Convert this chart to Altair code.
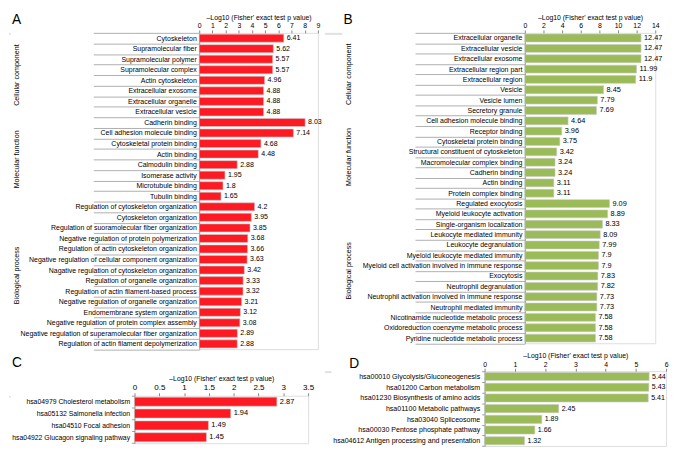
import altair as alt
import pandas as pd

FONT = "Liberation Sans"
XTITLE = "\u2013Log10 (Fisher' exact test p value)"
RED = "#fe1a22"
GREEN = "#9bbb59"

GROUPS = ["Cellular component", "Molecular function", "Biological process"]
LETTERS = ["A", "B", "C", "D"]

# ---------- Panel A ----------
A_cc_terms = ["Cytoskeleton", "Supramolecular fiber", "Supramolecular polymer", "Supramolecular complex",
              "Actin cytoskeleton", "Extracellular exosome", "Extracellular organelle", "Extracellular vesicle"]
A_cc_values = [6.41, 5.62, 5.57, 5.57, 4.96, 4.88, 4.88, 4.88]
A_mf_terms = ["Cadherin binding", "Cell adhesion molecule binding", "Cytoskeletal protein binding", "Actin binding",
              "Calmodulin binding", "Isomerase activity", "Microtubule binding", "Tubulin binding"]
A_mf_values = [8.03, 7.14, 4.68, 4.48, 2.88, 1.95, 1.8, 1.65]
A_bp_terms = ["Regulation of cytoskeleton organization", "Cytoskeleton organization",
              "Regulation of suoramolecular fiber organization", "Negative regulation of protein polymerization",
              "Regulation of actin cytoskeleton organization", "Negative regulation of cellular component organization",
              "Nagative regulation of cytoskeleton organization", "Regulation of organelle organization",
              "Regulation of actin filament-based process", "Negative regulation of organelle organization",
              "Endomembrane system organization", "Negative regulation of protein complex assembly",
              "Negative regulation of superamolecular fiber organization", "Regulation of actin filament depolymerization"]
A_bp_values = [4.2, 3.95, 3.85, 3.68, 3.66, 3.63, 3.42, 3.33, 3.32, 3.21, 3.12, 3.08, 2.89, 2.88]
A_ticks = [0, 1, 2, 3, 4, 5, 6, 7, 8, 9]

# ---------- Panel B ----------
B_cc_terms = ["Extracellular organelle", "Extracellular vesicle", "Extracellular exosome", "Extracellular region part",
              "Extracellular region", "Vesicle", "Vesicle lumen", "Secretory granule"]
B_cc_values = [12.47, 12.47, 12.47, 11.99, 11.9, 8.45, 7.79, 7.69]
B_mf_terms = ["Cell adhesion molecule binding", "Receptor binding", "Cytoskeletal protein binding",
              "Structural constituent of cytoskeleton", "Macromolecular complex binding", "Cadherin binding",
              "Actin binding", "Protein complex binding"]
B_mf_values = [4.64, 3.96, 3.75, 3.42, 3.24, 3.24, 3.11, 3.11]
B_bp_terms = ["Regulated exocytosis", "Myeloid leukocyte activation", "Single-organism localization",
              "Leukocyte mediated immunity", "Leukocyte degranulation", "Myeloid leukocyte mediated immunity",
              "Myeloid cell activation involved in immune response", "Exocytosis", "Neutrophil degranulation",
              "Neutrophil activation involved in immune response", "Neutrophil mediated immunity",
              "Nicotinamide nucleotide metabolic process", "Oxidoreduction coenzyme metabolic process",
              "Pyridine nucleotide metabolic process"]
B_bp_values = [9.09, 8.89, 8.33, 8.09, 7.99, 7.9, 7.9, 7.83, 7.82, 7.73, 7.73, 7.58, 7.58, 7.58]
B_ticks = [0, 2, 4, 6, 8, 10, 12, 14]

# ---------- Panel C ----------
C_terms = ["hsa04979 Cholesterol metabolism", "hsa05132 Salmonella infection", "hsa04510 Focal adhesion",
           "hsa04922 Glucagon signaling pathway"]
C_values = [2.87, 1.94, 1.49, 1.45]
C_ticks = [0, 0.5, 1, 1.5, 2, 2.5, 3, 3.5]

# ---------- Panel D ----------
D_terms = ["hsa00010 Glycolysis/Gluconeogenesis", "hsa01200 Carbon metabolism", "hsa01230 Biosynthesis of amino acids",
           "hsa01100 Metabolic pathways", "hsa03040 Spliceosome", "hsa00030 Pentose phosphate pathway",
           "hsa04612 Antigen processing and presentation"]
D_values = [5.44, 5.43, 5.41, 2.45, 1.89, 1.66, 1.32]
D_ticks = [0, 1, 2, 3, 4, 5, 6]


def x_axis(ticks, fs):
    return alt.Axis(orient="top", values=ticks, format="~r", title=XTITLE, titleFontSize=7,
                    titleFontWeight="normal", titlePadding=2, labelFontSize=fs, labelPadding=1,
                    labelOverlap=False, labelFlush=False, domain=False,
                    tickSize=3, tickColor="#888888", labelColor="black",
                    titleColor="black", grid=False)


def letter_layer(letter, lx, ly):
    return alt.Chart(pd.DataFrame({"letter": [letter]})).mark_text(
        align="left", baseline="alphabetic", fontSize=14, font=FONT, color="black").encode(
        text="letter:N", x=alt.value(lx), y=alt.value(ly))


def spacer(w):
    return alt.Chart(pd.DataFrame({"s": [0]})).mark_rule(opacity=0, strokeWidth=0).encode(
        x=alt.value(0), y=alt.value(0), y2=alt.value(0)).properties(width=w, height=1)


def go_panel(terms_lists, values_lists, color, step, xmax, ticks, width, letter, tick_len, group_x, lfs, vfs):
    rows = []
    for g, ts, vs in zip(GROUPS, terms_lists, values_lists):
        for k, (t, v) in enumerate(zip(ts, vs)):
            rows.append({"group": g, "term": t, "value": v, "mid": k == len(ts) // 2})
    df = pd.DataFrame(rows)
    xenc = alt.X("value:Q", scale=alt.Scale(domain=[0, xmax], nice=False), axis=x_axis(ticks, 7))
    yaxis = alt.Axis(title=None, tickBand="extent", tickSize=tick_len, tickColor="#9a9a9a", tickWidth=0.8,
                     labelPadding=-(tick_len - 3), labelFontSize=lfs, labelLimit=400, labelColor="black",
                     domainColor="#9a9a9a")
    yenc = alt.Y("term:N", sort=None, scale=alt.Scale(paddingInner=0, paddingOuter=0), axis=yaxis)
    base = alt.Chart(df)
    bars = base.mark_bar(color=color, stroke="#c8c8c8", strokeWidth=0.6,
                         height={"band": 0.76}).encode(x=xenc, y=yenc)
    text = base.mark_text(align="left", dx=3, fontSize=vfs, font=FONT, color="black").encode(
        x=xenc, y=yenc, text=alt.Text("value:Q", format="~r"))
    glabels = base.transform_filter(alt.datum.mid).mark_text(
        angle=270, align="center", baseline="middle", fontSize=7.3, font=FONT, color="black").encode(
        x=alt.value(group_x), y=alt.Y("term:N", sort=None, bandPosition=0), text="group:N")
    return alt.layer(bars, text, glabels, letter_layer(*letter)).properties(width=width, height=alt.Step(step))


def simple_panel(terms, values, color, step, xmax, ticks, width, letter, fs, tfs, vfs):
    yaxis = alt.Axis(title=None, tickBand="extent", tickSize=3, tickColor="#9a9a9a", labelPadding=2,
                     labelFontSize=fs, labelLimit=400, labelColor="black", domainColor="#9a9a9a")
    df = pd.DataFrame({"term": terms, "value": values})
    xenc = alt.X("value:Q", scale=alt.Scale(domain=[0, xmax], nice=False), axis=x_axis(ticks, tfs))
    yenc = alt.Y("term:N", sort=None, scale=alt.Scale(paddingInner=0, paddingOuter=0), axis=yaxis)
    bars = alt.Chart(df).mark_bar(color=color, stroke="#c8c8c8", strokeWidth=0.6,
                                  height={"band": 0.76}).encode(x=xenc, y=yenc)
    text = alt.Chart(df).mark_text(align="left", dx=3, fontSize=vfs, font=FONT, color="black").encode(
        x=xenc, y=yenc, text=alt.Text("value:Q", format="~r"))
    return alt.layer(bars, text, letter_layer(*letter)).properties(width=width, height=alt.Step(step))


A = go_panel([A_cc_terms, A_mf_terms, A_bp_terms], [A_cc_values, A_mf_values, A_bp_values],
             RED, 10.75, 9, A_ticks, 121, (LETTERS[0], -191, -9), 108, -186, 7.1, 7.2)
B = go_panel([B_cc_terms, B_mf_terms, B_bp_terms], [B_cc_values, B_mf_values, B_bp_values],
             GREEN, 10.55, 14, B_ticks, 133, (LETTERS[1], -185, -9), 112, -179, 7.1, 7.5)
C = simple_panel(C_terms, C_values, RED, 12.1, 3.5, C_ticks, 177, (LETTERS[2], -125, -29), 7.0, 8.2, 7.6)
D = simple_panel(D_terms, D_values, GREEN, 10.9, 6, D_ticks, 185, (LETTERS[3], -138, -3), 7.2, 7, 7.2)

left_col = alt.vconcat(alt.hconcat(spacer(1), A, spacing=0),
                       alt.hconcat(spacer(1), C, spacing=0), spacing=5)
right_col = alt.vconcat(alt.hconcat(spacer(17), B, spacing=0),
                        alt.hconcat(spacer(6), D, spacing=0), spacing=6)

chart = alt.hconcat(left_col, right_col, spacing=1).properties(padding=0).configure_view(
    stroke=None).configure(font=FONT)

chart.save("out.html", embed_options={"renderer": "svg", "actions": False})
